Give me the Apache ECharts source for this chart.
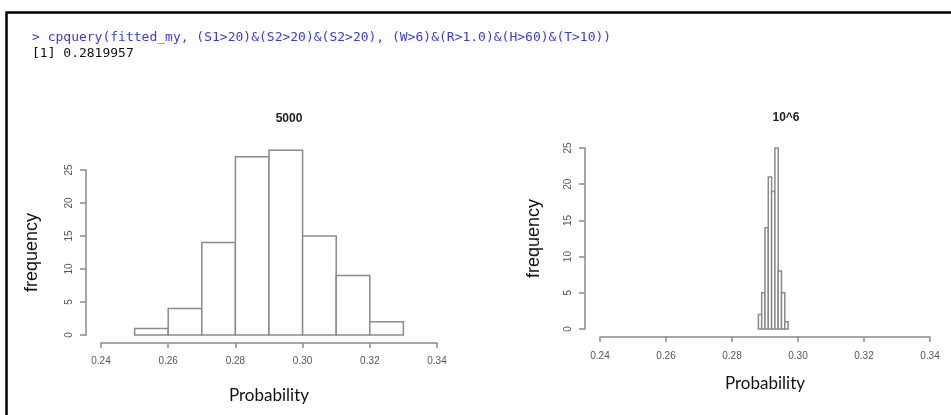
<!DOCTYPE html>
<html>
<head>
    <meta charset="utf-8">
    <title>cpquery histograms</title>
    <script src="https://cdn.jsdelivr.net/npm/echarts@6/dist/echarts.min.js"></script>
    <style>
        html, body { margin: 0; padding: 0; background: #fff; }
        #chart { width: 951px; height: 415px; }
    </style>
</head>
<body>
<div id="chart"></div>

<script>
    // bin edges and counts
    var leftEdges = [0.25, 0.26, 0.27, 0.28, 0.29, 0.30, 0.31, 0.32, 0.33];
    var leftCounts = [1, 4, 14, 27, 28, 15, 9, 2];
    var rightEdges = [0.288, 0.289, 0.290, 0.291, 0.292, 0.293, 0.294, 0.295, 0.296, 0.297];
    var rightCounts = [2, 5, 14, 21, 19, 25, 8, 5, 1];

    var xTicks = { min: 0.24, max: 0.34, interval: 0.02 };
    var yTicks = { min: 0, max: 25, interval: 5 };
    var codeLine = '> cpquery(fitted_my, (S1>20)&(S2>20)&(S2>20), (W>6)&(R>1.0)&(H>60)&(T>10))';
    var resultLine = '[1] 0.2819957';
    var plotTitles = ['5000', '10^6'];

    function toBins(edges, counts) {
        var out = [];
        for (var i = 0; i < counts.length; i++) {
            out.push([edges[i], edges[i + 1], counts[i]]);
        }
        return out;
    }

    function renderBin(params, api) {
        var top = api.coord([api.value(0), api.value(2)]);
        var base = api.coord([api.value(1), 0]);
        return {
            type: 'rect',
            shape: { x: top[0], y: top[1], width: base[0] - top[0], height: base[1] - top[1] },
            style: { fill: '#fff', stroke: '#8a8a8a', lineWidth: 1.5 }
        };
    }

    var axisGray = '#8a8a8a';
    var tickFont = { color: '#555', fontSize: 10, fontFamily: 'Liberation Sans' };

    function makeX(idx, gap, labelMargin) {
        return {
            gridIndex: idx, type: 'value',
            min: xTicks.min, max: xTicks.max, interval: xTicks.interval,
            offset: 8,
            axisLine: { show: true, onZero: false, lineStyle: { color: axisGray, width: 1.5 } },
            axisTick: { show: true, length: 5, lineStyle: { color: axisGray, width: 1.5 } },
            axisLabel: Object.assign({ margin: labelMargin, formatter: function (v) { return v.toFixed(2); } }, tickFont),
            splitLine: { show: false },
            name: 'Probability', nameLocation: 'middle', nameGap: gap,
            nameTextStyle: { fontFamily: 'Lato', fontSize: 17, color: '#111' }
        };
    }

    function makeY(idx, gap) {
        return {
            gridIndex: idx, type: 'value',
            min: yTicks.min, max: yTicks.max, interval: yTicks.interval,
            offset: 15,
            axisLine: { show: true, onZero: false, lineStyle: { color: axisGray, width: 1.5 } },
            axisTick: { show: true, length: 6, lineStyle: { color: axisGray, width: 1.5 } },
            axisLabel: Object.assign({ margin: 12, rotate: 90 }, tickFont),
            splitLine: { show: false },
            name: 'frequency', nameLocation: 'middle', nameGap: gap, nameRotate: 90,
            nameTextStyle: { fontFamily: 'Liberation Sans', fontSize: 18, color: '#111' }
        };
    }

    var chart = echarts.init(document.getElementById('chart'));
    chart.setOption({
        animation: false,
        backgroundColor: '#fff',
        title: [
            { text: plotTitles[0], left: 284, top: 108, textAlign: 'center',
              textStyle: { fontFamily: 'Liberation Sans', fontSize: 12, fontWeight: 'bold', color: '#222' } },
            { text: plotTitles[1], left: 781, top: 107, textAlign: 'center',
              textStyle: { fontFamily: 'Liberation Sans', fontSize: 12, fontWeight: 'bold', color: '#222' } }
        ],
        graphic: [
            { type: 'rect', left: 4, top: 10, shape: { width: 960, height: 420 },
              style: { fill: 'none', stroke: '#000', lineWidth: 2.5 } },
            { type: 'text', left: 32, top: 31,
              style: { text: codeLine, font: '13px "DejaVu Sans Mono"', fill: '#3b3bd6' } },
            { type: 'text', left: 32, top: 47,
              style: { text: resultLine, font: '13px "DejaVu Sans Mono"', fill: '#111' } }
        ],
        grid: [
            { left: 101, top: 170, width: 336, height: 165 },
            { left: 600, top: 148, width: 330, height: 181 }
        ],
        xAxis: [makeX(0, 44, 13), makeX(1, 38, 14)],
        yAxis: [makeY(0, 45), makeY(1, 42)],
        series: [
            { type: 'custom', xAxisIndex: 0, yAxisIndex: 0, clip: false,
              renderItem: renderBin, encode: { x: [0, 1], y: 2 },
              data: toBins(leftEdges, leftCounts) },
            { type: 'custom', xAxisIndex: 1, yAxisIndex: 1, clip: false,
              renderItem: renderBin, encode: { x: [0, 1], y: 2 },
              data: toBins(rightEdges, rightCounts) }
        ]
    });
</script>
</body>
</html>
